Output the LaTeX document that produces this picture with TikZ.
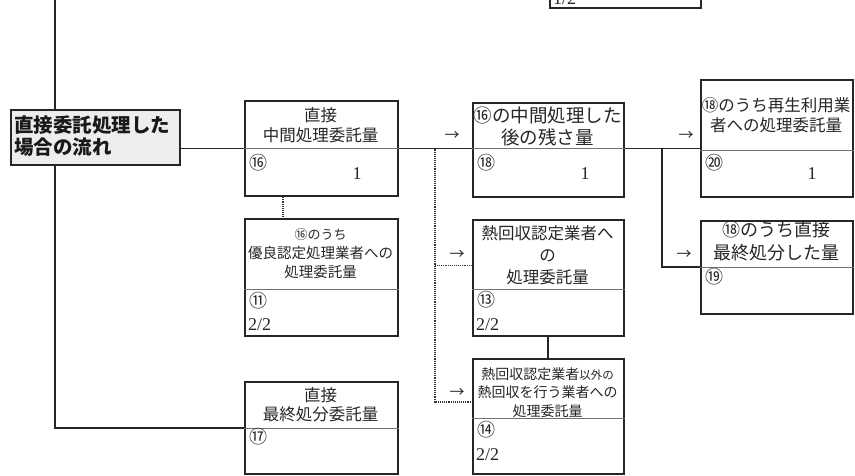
\documentclass[tikz,border=0pt]{standalone}
\usepackage{fontspec}
\newfontfamily\jp{Noto Sans CJK JP}
\newfontfamily\numf{Liberation Serif}
\begin{document}
\begin{tikzpicture}[x=1pt,y=-1pt,
  box/.style={draw=black!85, line width=1.7pt, inner sep=0pt, anchor=north west, fill=white},
  lblbox/.style={box, fill=black!7},
  div/.style={draw=black!55, line width=0.7pt},
  link/.style={draw=black!85, line width=1.3pt},
  dots/.style={draw=black!80, line width=1.5pt, dash pattern=on 1pt off 0.9pt},
  ttl/.style={font=\jp\fontsize{16.5}{20}\selectfont, align=center, inner sep=0pt, text=black!85},
  circ/.style={font=\jp\fontsize{18}{18}\selectfont, inner sep=0pt, anchor=west, text=black!85},
  val/.style={font=\numf\fontsize{18}{18}\selectfont, inner sep=0pt, text=black!85},
  frac/.style={font=\numf\fontsize{18}{18}\selectfont, inner sep=0pt, anchor=west, text=black!85},
  arr/.style={font=\jp\fontsize{15}{15}\selectfont, inner sep=0pt, text=black!85}
]
\useasboundingbox (0,0) rectangle (855,475);
\clip (0,0) rectangle (855,475);
\fill[white] (0,0) rectangle (855,475);

% level coordinates
\coordinate (d16) at (0,148.5);
\coordinate (d11) at (0,289);
\coordinate (d17) at (0,428);
\coordinate (d13) at (0,289);
\coordinate (d14) at (0,418);
\coordinate (d20) at (0,150);
\coordinate (d19) at (0,267);
\coordinate (l13) at (0,265.5);
\coordinate (l14) at (0,402);
\coordinate (xv) at (55,0);
\coordinate (xdot) at (283,0);
\coordinate (xmid) at (548,0);
\coordinate (topend) at (55,0);
\coordinate (j1) at (662,148.5);
\coordinate (j2) at (435,148.5);

% boxes
\node[box, minimum width=151pt, minimum height=60pt] (btop) at (549,-53) {};
\node[lblbox, minimum width=169pt, minimum height=55pt] (lbl) at (10,109) {};
\node[box, minimum width=153pt, minimum height=95pt] (b16) at (244,100) {};
\node[box, minimum width=153pt, minimum height=117pt] (b11) at (244,218) {};
\node[box, minimum width=153pt, minimum height=92pt] (b17) at (244,381) {};
\node[box, minimum width=151pt, minimum height=94pt] (b18) at (472,102) {};
\node[box, minimum width=151pt, minimum height=116pt] (b13) at (472,219) {};
\node[box, minimum width=151pt, minimum height=115pt] (b14) at (472,358) {};
\node[box, minimum width=152pt, minimum height=117pt] (b20) at (700,79) {};
\node[box, minimum width=152pt, minimum height=93pt] (b19) at (700,220) {};

% dividers
\draw[div] (b16.west |- d16) -- (b16.east |- d16);
\draw[div] (b11.west |- d11) -- (b11.east |- d11);
\draw[div] (b17.west |- d17) -- (b17.east |- d17);
\draw[div] (b18.west |- d16) -- (b18.east |- d16);
\draw[div] (b13.west |- d13) -- (b13.east |- d13);
\draw[div] (b14.west |- d14) -- (b14.east |- d14);
\draw[div] (b20.west |- d20) -- (b20.east |- d20);
\draw[div] (b19.west |- d19) -- (b19.east |- d19);

% connectors
\draw[link] (topend) -- (lbl.north -| xv);
\draw[link] (lbl.south -| xv) |- (b17.west |- d17);
\draw[link] (lbl.east |- d16) -- (b16.west |- d16);
\draw[link] (b16.east |- d16) -- (b18.west |- d16);
\draw[link] (b18.east |- d16) -- (b20.west |- d16);
\draw[link] (j1) |- (b19.west |- d19);
\draw[link] (b13.south -| xmid) -- (b14.north -| xmid);
\draw[dots] (b16.south -| xdot) -- (b11.north -| xdot);
\draw[dots] (j2) |- (b14.west |- l14);
\draw[dots] (j2 |- l13) -- (b13.west |- l13);

% texts
\node[frac, anchor=south west] (ttop) at (553,5) {1/2};
\node[font=\jp\bfseries\fontsize{19.5}{22}\selectfont, align=left, inner sep=0pt, anchor=west, text=black!90] (tlbl) at (14,136.5) {直接委託処理した\\場合の流れ};

\node[ttl] (t16) at (320.5,125) {直接\\中間処理委託量};
\node[circ] (c16) at (249,163) {⑯};
\node[val] (v16) at (357,174) {1};

\node[ttl, font=\jp\fontsize{14.5}{19}\selectfont] (t11) at (320.5,254) {{\fontsize{13}{19}\selectfont ⑯のうち}\\優良認定処理業者への\\処理委託量};
\node[circ] (c11) at (249,301) {⑪};
\node[frac] (f11) at (248,325) {2/2};

\node[ttl, font=\jp\fontsize{16.5}{19}\selectfont] (t17) at (320.5,404.5) {直接\\最終処分委託量};
\node[circ] (c17) at (249,437) {⑰};

\node[ttl, font=\jp\fontsize{18.5}{22}\selectfont] (t18) at (547.5,126) {⑯の中間処理した\\後の残さ量};
\node[circ] (c18) at (477,163) {⑱};
\node[val] (v18) at (585,174) {1};

\node[ttl, font=\jp\fontsize{16.5}{22}\selectfont] (t13) at (547.5,255) {熱回収認定業者へ\\の\\処理委託量};
\node[circ] (c13) at (477,300) {⑬};
\node[frac] (f13) at (476,325) {2/2};

\node[ttl, font=\jp\fontsize{14}{18.5}\selectfont] (t14) at (547.5,392.5) {熱回収認定業者{\fontsize{11.5}{18.5}\selectfont 以外の}\\熱回収を行う業者への\\処理委託量};
\node[circ] (c14) at (477,430) {⑭};
\node[frac] (f14) at (476,455) {2/2};

\node[ttl, font=\jp\fontsize{16.5}{20}\selectfont] (t20) at (776,115) {⑱のうち再生利用業\\者への処理委託量};
\node[circ] (c20) at (705,163) {⑳};
\node[val] (v20) at (812,174) {1};

\node[ttl, font=\jp\fontsize{18}{23}\selectfont] (t19) at (776,241.5) {⑱のうち直接\\最終処分した量};
\node[circ] (c19) at (705,277) {⑲};

% arrows (text)
\node[arr] (a18) at (452,136) {→};
\node[arr] (a20) at (686,136) {→};
\node[arr] (a13) at (457,255) {→};
\node[arr] (a14) at (457,393) {→};
\node[arr] (a19) at (684,255) {→};
\end{tikzpicture}
\end{document}
